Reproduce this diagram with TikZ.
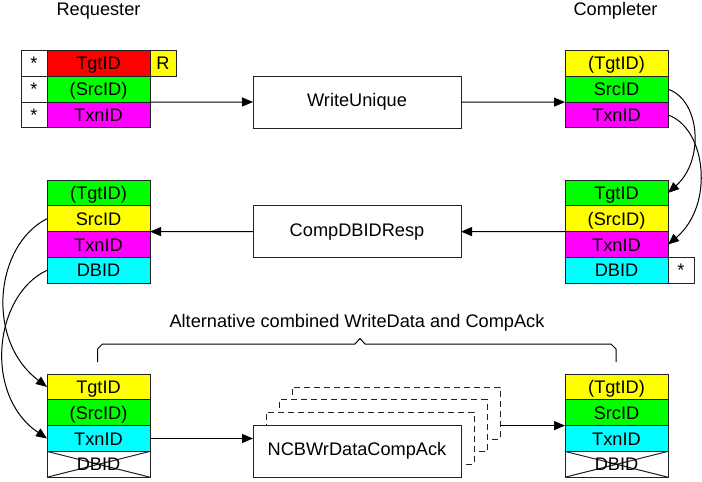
\documentclass[tikz,border=0pt]{standalone}
\usepackage{fontspec}
\setmainfont{Liberation Sans}
\usetikzlibrary{arrows.meta}
\definecolor{cred}{HTML}{FF0000}
\definecolor{cyel}{HTML}{FFFF00}
\definecolor{cgrn}{HTML}{00FF00}
\definecolor{cmag}{HTML}{FF00FF}
\definecolor{ccyn}{HTML}{00FFFF}
\definecolor{cline}{HTML}{222222}
\begin{document}
\begin{tikzpicture}[x=1pt,y=-1pt,
  txt/.style={font=\fontsize{18.2}{21}\selectfont},
  cell/.style={txt, draw=cline, line width=1pt, minimum width=103pt, minimum height=25.8pt,
    inner sep=0pt, outer sep=0pt, text height=13pt, text depth=0pt},
  starbox/.style={cell, minimum width=26pt, fill=white},
  crossed/.style={cell, fill=white, path picture={
    \draw[cline, line width=1pt] (path picture bounding box.north west) -- (path picture bounding box.south east)
      (path picture bounding box.south west) -- (path picture bounding box.north east);}},
  msg/.style={txt, draw=cline, line width=1pt, fill=white, minimum width=208pt, minimum height=52pt,
    inner sep=0pt, outer sep=0pt},
  ghost/.style={msg, dash pattern=on 6pt off 4pt},
  arr/.style={draw=black, line width=1pt, -{Triangle[length=11pt,width=9pt]}},
  conn/.style={draw=black, line width=1pt}
]
\useasboundingbox (0,0) rectangle (702,482);

% titles
\node[txt] (treq) at (98.5,11) {Requester};
\node[txt] (tcomp) at (615.5,11) {Completer};

% Requester top
\node[cell, fill=cred] (rTgt) at (98.5,63.4) {TgtID};
\node[cell, fill=cgrn] (rSrc) at (98.5,89.2) {(SrcID)};
\node[cell, fill=cmag] (rTxn) at (98.5,115) {TxnID};
\node[starbox] (s1) at (34,63.4) {*};
\node[starbox] (s2) at (34,89.2) {*};
\node[starbox] (s3) at (34,115) {*};
\node[starbox, fill=cyel] (rR) at (163,63.4) {R};

% Completer top
\node[cell, fill=cyel] (cTgt) at (616.5,63.4) {(TgtID)};
\node[cell, fill=cgrn] (cSrc) at (616.5,89.2) {SrcID};
\node[cell, fill=cmag] (cTxn) at (616.5,115) {TxnID};

% WriteUnique
\node[msg] (wu) at (357,102) {WriteUnique};
\draw[arr] (rSrc.south east) -- (wu.west);
\draw[arr] (wu.east) -- (cSrc.south west);

% Completer middle
\node[cell, fill=cgrn] (c2Tgt) at (616.5,192.9) {TgtID};
\node[cell, fill=cyel] (c2Src) at (616.5,218.7) {(SrcID)};
\node[cell, fill=cmag] (c2Txn) at (616.5,244.5) {TxnID};
\node[cell, fill=ccyn] (c2DB) at (616.5,270.3) {DBID};
\node[starbox] (s4) at (681,270.3) {*};

% Requester middle
\node[cell, fill=cgrn] (l2Tgt) at (98.5,192.9) {(TgtID)};
\node[cell, fill=cyel] (l2Src) at (98.5,218.7) {SrcID};
\node[cell, fill=cmag] (l2Txn) at (98.5,244.5) {TxnID};
\node[cell, fill=ccyn] (l2DB) at (98.5,270.3) {DBID};

% CompDBIDResp
\node[msg] (cd) at (357,231.6) {CompDBIDResp};
\draw[arr] (c2Src.south west) -- (cd.east);
\draw[arr] (cd.west) -- (l2Src.south east);

% right curves
\draw[arr] (cSrc.east) .. controls (700,100) and (705,160) .. (c2Tgt.east);
\draw[arr] (cTxn.east) .. controls (706,128) and (715,205) .. (c2Txn.east);

% Requester bottom
\node[cell, fill=cyel] (l3Tgt) at (98.5,386.9) {TgtID};
\node[cell, fill=cgrn] (l3Src) at (98.5,412.7) {(SrcID)};
\node[cell, fill=ccyn] (l3Txn) at (98.5,438.5) {TxnID};
\node[crossed] (l3DB) at (98.5,464.3) {DBID};

% left curves
\draw[arr] (l2Src.west) .. controls (-5,245) and (-15,340) .. (l3Tgt.west);
\draw[arr] (l2DB.west) .. controls (-6,295) and (-17,395) .. (l3Txn.west);

% Completer bottom
\node[cell, fill=cyel] (r3Tgt) at (616.5,386.9) {(TgtID)};
\node[cell, fill=cgrn] (r3Src) at (616.5,412.7) {SrcID};
\node[cell, fill=ccyn] (r3Txn) at (616.5,438.5) {TxnID};
\node[crossed] (r3DB) at (616.5,464.3) {DBID};

% NCBWrDataCompAck stack
\node[ghost] (d3) at (396,413) {};
\node[ghost] (d2) at (383,425.7) {};
\node[ghost] (d1) at (370,438.3) {};
\node[msg] (nc) at (357,451) {NCBWrDataCompAck};
\draw[arr] (l3Txn.east) -- (l3Txn.east -| nc.west);
\draw[arr] (d3.east |- r3Src.south west) -- (r3Src.south west);

% brace
\node[txt] (alt) at (357,323) {Alternative combined WriteData and CompAck};
\coordinate (bl) at (97.5,362);
\coordinate (br) at (616,362);
\draw[conn] (bl) -- (97.5,349) -- (102.5,344) -- (355,344) -- (360,338.5) -- (365,344)
  -- (611,344) -- (616,349) -- (br);
\end{tikzpicture}
\end{document}
